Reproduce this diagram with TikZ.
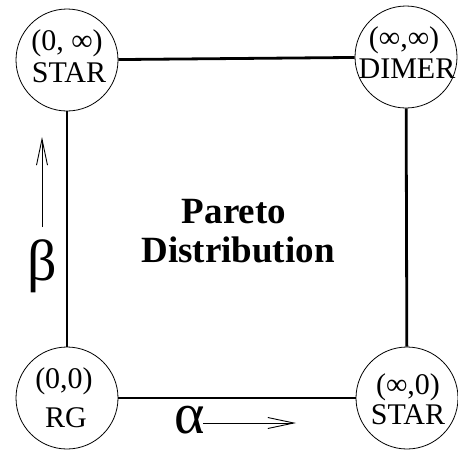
\documentclass[tikz,border=0pt]{standalone}
\usepackage{fontspec}
\setmainfont{Liberation Serif}
\usetikzlibrary{arrows.meta}
\begin{document}
\begin{tikzpicture}[x=1pt,y=-1pt,
  state/.style={circle,draw,line width=0.8pt,minimum size=102pt,inner sep=0pt},
  ctext/.style={anchor=base,inner sep=0pt,font=\fontsize{30}{32}\selectfont},
  edge/.style={line width=2.8pt},
  param/.style={line width=0.9pt,-{Straight Barb[length=26pt,width=11pt,line width=0.9pt]}},
  greek/.style={inner sep=0pt,font=\fontsize{58}{60}\selectfont},
  title/.style={anchor=base,inner sep=0pt,font=\fontsize{37}{39}\selectfont\bfseries}]
\useasboundingbox (0,0) rectangle (458,451);
\node[state] (tl) at (67,60) {};
\node[state] (tr) at (406,57) {};
\node[state] (bl) at (67,398) {};
\node[state] (br) at (407,398) {};
\draw[edge] (tl) -- (tr);
\draw[edge] (tl) -- (bl);
\draw[edge] (bl) -- (br);
\draw[edge] (tr) -- (br);
\node[ctext] (tla) at (67,50) {(0, ∞)};
\node[ctext] (tlb) at (69,82) {STAR};
\node[ctext] (tra) at (404,47) {(∞,∞)};
\node[ctext] (trb) at (407,78) {DIMER};
\node[ctext] (bla) at (64,388) {(0,0)};
\node[ctext] (blb) at (66,427) {RG};
\node[ctext] (bra) at (408,394) {(∞,0)};
\node[ctext] (brb) at (408,424) {STAR};
\node[title] (t1) at (234,223) {Pareto};
\node[title] (t2) at (238,262) {Distribution};
\coordinate (b0) at (42,227);
\coordinate (b1) at (42,137);
\draw[param] (b0) -- (b1);
\node[greek] (beta) at (42,266) {β};
\node[greek,anchor=east] (alpha) at (205,420) {α};
\coordinate (a1) at (296,423);
\draw[param] (203,423) -- (a1);
\end{tikzpicture}
\end{document}
